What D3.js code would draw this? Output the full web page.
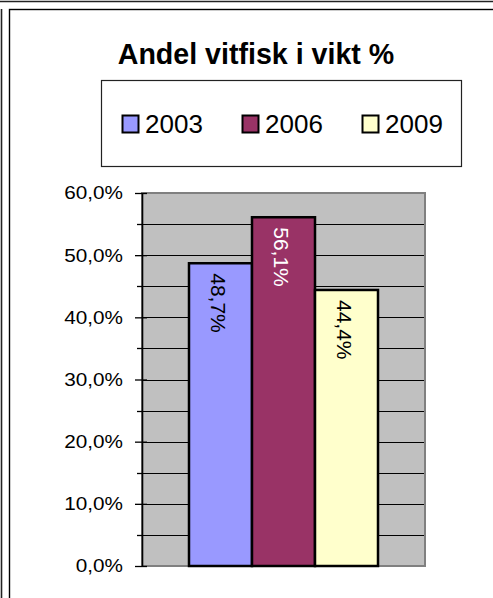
<!DOCTYPE html>
<html>
<head>
<meta charset="utf-8">
<script src="https://cdn.jsdelivr.net/npm/d3@7"></script>
<style>
  html, body { margin: 0; padding: 0; background: #fff; }
  svg { display: block; font-family: Arial, "Liberation Sans", sans-serif; }
</style>
</head>
<body>
<svg id="chart" width="493" height="598"></svg>
<script>
// ---- data ----
const title = "Andel vitfisk i vikt %";
const years = ["2003", "2006", "2009"];
const values = [48.7, 56.1, 44.4];
const colors = ["#9999FF", "#993366", "#FFFFCC"];
const labelColors = ["#000000", "#FFFFFF", "#000000"];
const majorTicks = [0, 10, 20, 30, 40, 50, 60];
const minorTicks = [5, 15, 25, 35, 45, 55];
const gridValues = [5, 10, 15, 20, 25, 30, 35, 40, 45, 50, 55];

const svg = d3.select("#chart");

// ---- frames ----
svg.append("line").attr("x1", 0).attr("x2", 493).attr("y1", 1.5).attr("y2", 1.5)
  .attr("stroke", "#222").attr("stroke-width", 1.6);
svg.append("line").attr("x1", 1.5).attr("x2", 1.5).attr("y1", 9).attr("y2", 598)
  .attr("stroke", "#222").attr("stroke-width", 1.6);
svg.append("rect").attr("x", 9.5).attr("y", 9.5).attr("width", 500).attr("height", 600)
  .attr("fill", "#fff").attr("stroke", "#000").attr("stroke-width", 1.4);

// ---- title ----
svg.append("text").attr("x", 256).attr("y", 64).attr("text-anchor", "middle")
  .attr("font-size", 28.6).attr("font-weight", "bold").attr("fill", "#000").text(title);

// ---- legend ----
const legend = svg.append("g");
legend.append("rect").attr("x", 101.5).attr("y", 80.5).attr("width", 360).attr("height", 86)
  .attr("fill", "#fff").attr("stroke", "#222").attr("stroke-width", 1.2);
const legX = [122, 242, 362];
const li = legend.selectAll("g.item").data(years).join("g").attr("class", "item")
  .attr("transform", (d, i) => `translate(${legX[i]},115)`);
li.append("rect").attr("x", 0.5).attr("y", 0.5).attr("width", 16).attr("height", 17)
  .attr("fill", (d, i) => colors[i]).attr("stroke", "#000").attr("stroke-width", 2);
li.append("text").attr("x", 23).attr("y", 17.8).attr("font-size", 26).attr("fill", "#000")
  .text(d => d);

// ---- plot ----
const plotLeft = 142, plotRight = 425, plotTop = 193, plotBottom = 566;
const y = d3.scaleLinear().domain([0, 60]).range([plotBottom, plotTop]);
const x = d3.scaleBand().domain(years).range([plotLeft, plotRight])
  .paddingInner(0).paddingOuter(0.746);

svg.append("rect").attr("x", plotLeft).attr("y", plotTop)
  .attr("width", plotRight - plotLeft).attr("height", plotBottom - plotTop)
  .attr("fill", "#C0C0C0").attr("stroke", "#808080").attr("stroke-width", 2);

svg.append("g").selectAll("line").data(gridValues).join("line")
  .attr("x1", plotLeft).attr("x2", plotRight - 1)
  .attr("y1", d => Math.round(y(d)) + 0.5).attr("y2", d => Math.round(y(d)) + 0.5)
  .attr("stroke", "#000").attr("stroke-width", 1);

// bars
svg.append("g").selectAll("rect").data(values).join("rect")
  .attr("x", (d, i) => x(years[i]))
  .attr("y", d => y(d))
  .attr("width", x.bandwidth())
  .attr("height", d => y(0) - y(d))
  .attr("fill", (d, i) => colors[i])
  .attr("stroke", "#000").attr("stroke-width", 2.5);

// bar labels (rotated)
svg.append("g").selectAll("text").data(values).join("text")
  .attr("transform", (d, i) => `translate(${x(years[i]) + x.bandwidth() / 2 - 2},${y(d) + 10}) rotate(90)`)
  .attr("dominant-baseline", "central")
  .attr("font-size", 21)
  .attr("fill", (d, i) => labelColors[i])
  .text(d => d.toFixed(1).replace(".", ",") + "%");

// axis
const axis = svg.append("g").attr("transform", `translate(${plotLeft},0)`)
  .call(d3.axisLeft(y).tickValues(majorTicks).tickSize(7).tickPadding(19)
    .tickFormat(d => d.toFixed(1).replace(".", ",") + "%"));
axis.select(".domain").attr("stroke", "#000").attr("stroke-width", 1.6)
  .attr("d", `M0.5,${plotTop}V${plotBottom}`);
axis.selectAll(".tick line").attr("stroke", "#000").attr("stroke-width", 1.3)
  .attr("x1", 5);
axis.selectAll(".tick text").attr("font-size", 18.5).attr("fill", "#000")
  .attr("font-family", "Arial, 'Liberation Sans', sans-serif")
  .attr("x", 0).attr("transform", "translate(-19,0) scale(1.12,1)");

svg.append("g").selectAll("line").data(minorTicks).join("line")
  .attr("x1", plotLeft - 5).attr("x2", plotLeft)
  .attr("y1", d => Math.round(y(d)) + 0.5).attr("y2", d => Math.round(y(d)) + 0.5)
  .attr("stroke", "#000").attr("stroke-width", 1.3);
</script>
</body>
</html>
